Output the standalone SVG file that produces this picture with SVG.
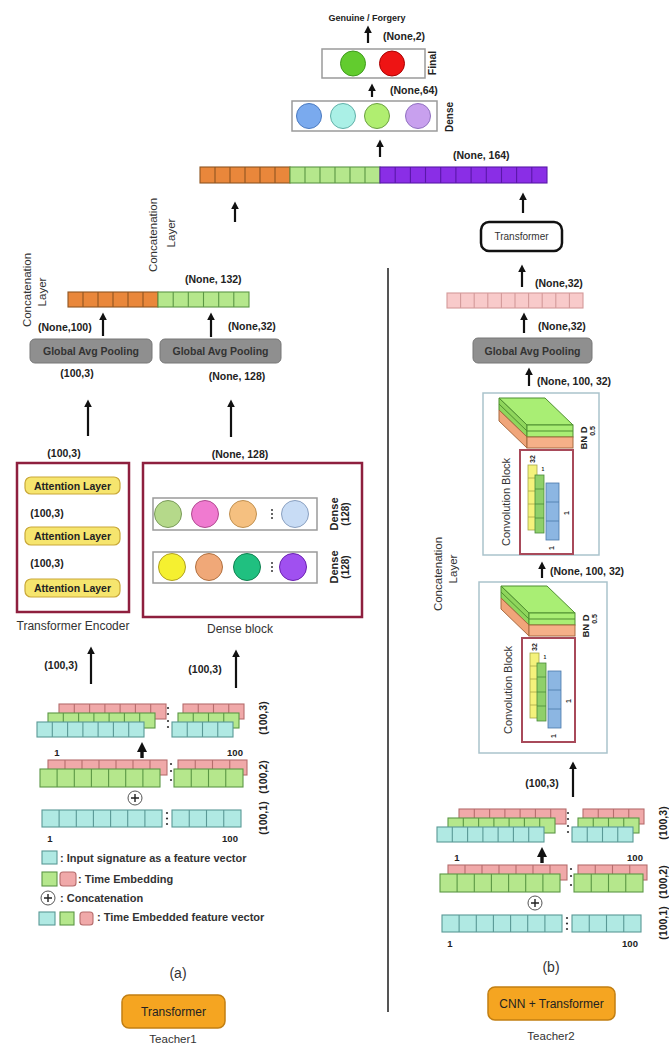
<svg xmlns="http://www.w3.org/2000/svg" width="669" height="1045" viewBox="0 0 669 1045">
<defs>
<style>
text{font-family:"Liberation Sans",Arial,sans-serif;fill:#222;dominant-baseline:central}
.b{font-weight:bold}
.m{text-anchor:middle}
.s5{font-size:5px}.s7{font-size:7px}.s9{font-size:9px}.s95{font-size:9.5px}.s10{font-size:10px}.s105{font-size:10.5px}.s11{font-size:11px}.s115{font-size:11.5px}.s12{font-size:12px}.s14{font-size:14px}
.g3{fill:#333}
.arr{stroke:#111;stroke-width:2.2;fill:none;marker-end:url(#ah)}
.arrb{stroke:#111;stroke-width:3.4;fill:none;marker-end:url(#ahb)}
.pk{fill:#f0a9a9;stroke:#b66d6d;stroke-width:1.1}
.gr{fill:#b5e78c;stroke:#5b9745;stroke-width:1.1}
.cy{fill:#b0e9e3;stroke:#5a9996;stroke-width:1.1}
.or{fill:#e9873b;stroke:#8f5522;stroke-width:1.1}
.pu{fill:#8a2ee6;stroke:#5a18a8;stroke-width:1.1}
.pkb{fill:#f8caca;stroke:#d39a9a;stroke-width:1.1}
.gap{fill:#8f8f8f;stroke:#777;stroke-width:1}
.red{fill:#fff;stroke:#8e1f3e;stroke-width:2.5}
.box{fill:#fff;stroke:#9a9a9a;stroke-width:1.5}
.att{fill:#f6e56e;stroke:#c9a838;stroke-width:1.2}
.cb{fill:#fff;stroke:#aac3cc;stroke-width:1.5}
.dot{fill:#333}
.plus{fill:#fff;stroke:#555;stroke-width:1}
.pl{stroke:#222;stroke-width:1.4;fill:none}
.tb{fill:#f5a521;stroke:#c27f12;stroke-width:1.5}
</style>
<marker id="ah" viewBox="0 0 10 10" refX="3" refY="5" markerWidth="8" markerHeight="8" markerUnits="userSpaceOnUse" orient="auto"><path d="M0,0 L10,5 L0,10 z" fill="#111"/></marker>
<marker id="ahb" viewBox="0 0 10 10" refX="3" refY="5" markerWidth="10" markerHeight="10" markerUnits="userSpaceOnUse" orient="auto"><path d="M0,0 L10,5 L0,10 z" fill="#111"/></marker>

<g id="emb">
  <rect class="pk" x="59" y="704" width="107" height="15"/>
  <path class="pk" d="M74.3 704v15M89.6 704v15M104.9 704v15M120.1 704v15M135.4 704v15M150.7 704v15"/>
  <rect class="gr" x="48" y="713" width="107" height="15"/>
  <path class="gr" d="M63.3 713v15M78.6 713v15M93.9 713v15M109.1 713v15M124.4 713v15M139.7 713v15"/>
  <rect class="cy" x="37" y="722" width="107" height="15"/>
  <path class="cy" d="M52.3 722v15M67.6 722v15M82.9 722v15M98.1 722v15M113.4 722v15M128.7 722v15"/>
  <rect class="pk" x="183" y="704" width="61" height="15"/>
  <path class="pk" d="M198.25 704v15M213.5 704v15M228.75 704v15"/>
  <rect class="gr" x="178" y="713" width="61" height="15"/>
  <path class="gr" d="M193.25 713v15M208.5 713v15M223.75 713v15"/>
  <rect class="cy" x="172" y="722" width="61" height="15"/>
  <path class="cy" d="M187.25 722v15M202.5 722v15M217.75 722v15"/>
  <circle class="dot" cx="168" cy="708" r="1.1"/><circle class="dot" cx="168" cy="714" r="1.1"/><circle class="dot" cx="168" cy="721" r="1.1"/><circle class="dot" cx="168" cy="727" r="1.1"/>
  <path class="arrb" d="M142 758V749"/>
  <text class="b m s95" x="57" y="752">1</text>
  <text class="b m s95" x="235" y="752">100</text>
  <rect class="pk" x="48" y="760" width="119" height="15"/>
  <path class="pk" d="M65 760v15M82 760v15M99 760v15M116 760v15M133 760v15M150 760v15"/>
  <rect class="gr" x="40" y="769" width="120" height="18"/>
  <path class="gr" d="M57.1 769v18M74.3 769v18M91.4 769v18M108.6 769v18M125.7 769v18M142.9 769v18"/>
  <rect class="pk" x="178" y="760" width="69" height="15"/>
  <path class="pk" d="M195.25 760v15M212.5 760v15M229.75 760v15"/>
  <rect class="gr" x="174" y="769" width="69" height="18"/>
  <path class="gr" d="M191.25 769v18M208.5 769v18M225.75 769v18"/>
  <circle class="dot" cx="171" cy="764" r="1.1"/><circle class="dot" cx="171" cy="771" r="1.1"/><circle class="dot" cx="171" cy="780" r="1.1"/>
  <circle class="plus" cx="135" cy="798" r="7"/>
  <path class="pl" d="M131 798h8M135 794v8"/>
  <rect class="cy" x="42" y="810" width="120" height="17"/>
  <path class="cy" d="M59.1 810v17M76.3 810v17M93.4 810v17M110.6 810v17M127.7 810v17M144.9 810v17"/>
  <rect class="cy" x="172" y="810" width="69" height="17"/>
  <path class="cy" d="M189.25 810v17M206.5 810v17M223.75 810v17"/>
  <circle class="dot" cx="167" cy="813" r="1.1"/><circle class="dot" cx="167" cy="818.5" r="1.1"/><circle class="dot" cx="167" cy="824" r="1.1"/>
  <text class="b m s95" x="50" y="838">1</text>
  <text class="b m s95" x="230" y="838">100</text>
  <text class="b m s105" transform="translate(263,718) rotate(-90)">(100,3)</text>
  <text class="b m s105" transform="translate(263,777) rotate(-90)">(100,2)</text>
  <text class="b m s105" transform="translate(263,818) rotate(-90)">(100,1)</text>
</g>

<g id="conv">
  <polygon points="499,398 545,398 573,425 527,425" fill="#a9ee74" stroke="#4f8f30" stroke-width="1"/>
  <polygon points="499,398 527,425 527,437 499,410" fill="#8fd65c" stroke="#4f8f30" stroke-width="1"/>
  <polygon points="499,410 527,437 527,448 499,421" fill="#f0a57a" stroke="#a86a40" stroke-width="1"/>
  <rect x="527" y="425" width="46" height="12" fill="#a9ee74" stroke="#4f8f30" stroke-width="1"/>
  <rect x="527" y="437" width="46" height="11" fill="#f5b088" stroke="#a86a40" stroke-width="1"/>
  <path d="M499 404L527 431H573" stroke="#4f8f30" stroke-width="1" fill="none"/>
  <rect x="520" y="450" width="53" height="104" fill="#fff" stroke="#a84a5a" stroke-width="2"/>
  <text class="m s11 g3" transform="translate(506,502) rotate(-90)">Convolution Block</text>
  <rect x="528" y="465" width="9" height="65" fill="#f4f27c" stroke="#a8a848" stroke-width="0.8"/>
  <path d="M528 478h9M528 491h9M528 504h9M528 517h9" stroke="#a8a848" stroke-width="0.8"/>
  <rect x="535" y="475" width="9" height="58" fill="#8fd06a" stroke="#4a8a3a" stroke-width="0.8"/>
  <path d="M535 489h9M535 504h9M535 518h9" stroke="#4a8a3a" stroke-width="0.8"/>
  <rect x="546" y="483" width="13" height="57" fill="#8cb6e2" stroke="#4a78aa" stroke-width="0.8"/>
  <path d="M546 502h13M546 521h13" stroke="#4a78aa" stroke-width="0.8"/>
  <text class="b m s7" transform="translate(532,459) rotate(-90)">32</text>
  <text class="b m s5" x="543" y="469">1</text>
  <text class="b m s7" transform="translate(566,513) rotate(-90)">1</text>
  <text class="b m s7" transform="translate(551,548) rotate(-90)">1</text>
  <text class="b m s95" transform="translate(583,438) rotate(-90)">BN D</text>
  <text class="b m s7" transform="translate(592,431) rotate(-90)">0.5</text>
</g>
</defs>

<rect width="669" height="1045" fill="#fff"/>

<!-- divider -->
<line x1="388" y1="268" x2="388" y2="1012" stroke="#555" stroke-width="2"/>

<g id="connectors">
  <path class="arr" d="M368 43V31"/>
  <path class="arr" d="M372 97V89"/>
  <path class="arr" d="M380 157V145"/>
  <path class="arr" d="M235 222V207"/>
  <path class="arr" d="M523 213V198"/>
  <path class="arr" d="M522 287V270"/>
  <path class="arr" d="M524 333V318"/>
  <path class="arr" d="M529 386V373"/>
  <path class="arr" d="M542 578V567"/>
  <path class="arr" d="M573 797V767"/>
  <path class="arr" d="M103 336V318"/>
  <path class="arr" d="M211 337V318"/>
  <path class="arr" d="M88 436V405"/>
  <path class="arr" d="M231 437V405"/>
  <path class="arr" d="M78 519V512"/>
  <path class="arr" d="M78 569V562"/>
  <path class="arr" d="M91 684V652"/>
  <path class="arr" d="M236 688V655"/>
</g>

<g id="output-label">
  <text class="b m s9" x="367" y="18">Genuine / Forgery</text>
  <text class="b s105" x="383" y="36">(None,2)</text>
</g>

<g id="final-layer">
  <rect class="box" x="322" y="49" width="103" height="29"/>
  <circle cx="353" cy="63.5" r="12.5" fill="#62cc2e" stroke="#3f9a1c"/>
  <circle cx="392" cy="63.5" r="12.5" fill="#ee1414" stroke="#a80000"/>
  <text class="b m s105" transform="translate(432,63) rotate(-90)">Final</text>
</g>
<text class="b s105" x="390" y="90">(None,64)</text>

<g id="dense-top">
  <rect class="box" x="292" y="101" width="145" height="30"/>
  <circle cx="309" cy="116" r="12.5" fill="#7aaaee" stroke="#4a7ac0"/>
  <circle cx="343" cy="116" r="12.5" fill="#aaf0e6" stroke="#60b0a8"/>
  <circle cx="377" cy="116" r="12.5" fill="#b0ee70" stroke="#6aa040"/>
  <circle cx="418" cy="116" r="12.5" fill="#c8a0ee" stroke="#9070c0"/>
  <text class="b m s10" transform="translate(449,117) rotate(-90)">Dense</text>
</g>
<text class="b s105" x="453" y="155">(None, 164)</text>

<g id="concat-final">
  <rect class="or" x="200" y="167" width="90" height="16"/>
  <path class="or" d="M215 167v16M230 167v16M245 167v16M260 167v16M275 167v16"/>
  <rect class="gr" x="290" y="167" width="90" height="16"/>
  <path class="gr" d="M305 167v16M320 167v16M335 167v16M350 167v16M365 167v16"/>
  <rect class="pu" x="380" y="167" width="167" height="16"/>
  <path class="pu" d="M395.2 167v16M410.4 167v16M425.5 167v16M440.7 167v16M455.9 167v16M471.1 167v16M486.3 167v16M501.5 167v16M516.6 167v16M531.8 167v16"/>
</g>

<!-- left branch -->
<g id="concat-label-1">
  <text class="m s115 g3" transform="translate(153,235) rotate(-90)">Concatenation</text>
  <text class="m s115 g3" transform="translate(171,233) rotate(-90)">Layer</text>
</g>
<g id="concat-label-2">
  <text class="m s115 g3" transform="translate(27,290) rotate(-90)">Concatenation</text>
  <text class="m s115 g3" transform="translate(42,292) rotate(-90)">Layer</text>
</g>
<text class="b s105" x="185" y="279">(None, 132)</text>
<g id="concat-left">
  <rect class="or" x="68" y="292" width="90" height="15"/>
  <path class="or" d="M83 292v15M98 292v15M113 292v15M128 292v15M143 292v15"/>
  <rect class="gr" x="158" y="292" width="91" height="15"/>
  <path class="gr" d="M173.2 292v15M188.3 292v15M203.5 292v15M218.7 292v15M233.8 292v15"/>
</g>
<text class="b s105" x="38" y="327">(None,100)</text>
<text class="b s105" x="228" y="326">(None,32)</text>

<g id="gap-left">
  <rect class="gap" x="30" y="339" width="122" height="24" rx="5"/>
  <text class="b m s105 g3" x="91" y="351">Global Avg Pooling</text>
</g>
<g id="gap-mid">
  <rect class="gap" x="160" y="339" width="121" height="24" rx="5"/>
  <text class="b m s105 g3" x="220.5" y="351">Global Avg Pooling</text>
</g>
<text class="b m s105" x="77" y="373">(100,3)</text>
<text class="b m s105" x="237" y="376">(None, 128)</text>
<text class="b m s105" x="64" y="453">(100,3)</text>
<text class="b m s105" x="240" y="454">(None, 128)</text>

<g id="transformer-encoder">
  <rect class="red" x="17" y="463" width="112" height="149"/>
  <rect class="att" x="25" y="477" width="95" height="17" rx="6"/>
  <text class="b m s105" x="72.5" y="485.5">Attention Layer</text>
  <text class="b m s105" x="47" y="513">(100,3)</text>
  <rect class="att" x="25" y="527" width="95" height="18" rx="6"/>
  <text class="b m s105" x="72.5" y="536">Attention Layer</text>
  <text class="b m s105" x="47" y="563">(100,3)</text>
  <rect class="att" x="25" y="579" width="95" height="18" rx="6"/>
  <text class="b m s105" x="72.5" y="588">Attention Layer</text>
</g>
<text class="m s12 g3" x="73" y="626">Transformer Encoder</text>

<g id="dense-block">
  <rect class="red" x="143" y="463" width="219" height="154"/>
  <rect class="box" x="153" y="498" width="164" height="32"/>
  <circle cx="168" cy="514" r="13.5" fill="#b5d98a" stroke="#7a9a5a"/>
  <circle cx="205" cy="514" r="13.5" fill="#f07ad0" stroke="#b04a90"/>
  <circle cx="243" cy="514" r="13.5" fill="#f5c080" stroke="#c09050"/>
  <circle class="dot" cx="272" cy="510" r="1"/><circle class="dot" cx="272" cy="514" r="1"/><circle class="dot" cx="272" cy="518" r="1"/>
  <circle cx="295" cy="514" r="13.5" fill="#c8dcf5" stroke="#8aa0c0"/>
  <rect class="box" x="153" y="552" width="164" height="31"/>
  <circle cx="172" cy="567" r="13.5" fill="#f5f030" stroke="#b0a020"/>
  <circle cx="209" cy="567" r="13.5" fill="#f0a878" stroke="#b07040"/>
  <circle cx="247" cy="567" r="13.5" fill="#20c080" stroke="#108050"/>
  <circle class="dot" cx="272" cy="563" r="1"/><circle class="dot" cx="272" cy="567" r="1"/><circle class="dot" cx="272" cy="571" r="1"/>
  <circle cx="293" cy="567" r="13.5" fill="#a050f0" stroke="#6a20b0"/>
  <text class="b m s11" transform="translate(334,514) rotate(-90)">Dense</text>
  <text class="b m s10" transform="translate(345,514) rotate(-90)">(128)</text>
  <text class="b m s11" transform="translate(334,567) rotate(-90)">Dense</text>
  <text class="b m s10" transform="translate(345,567) rotate(-90)">(128)</text>
</g>
<text class="m s12 g3" x="240" y="629">Dense block</text>
<text class="b m s105" x="61" y="665">(100,3)</text>
<text class="b m s105" x="205" y="669">(100,3)</text>

<g id="embedding-left"><use href="#emb"/></g>

<g id="legend">
  <rect class="cy" x="42" y="851" width="15" height="13"/>
  <text class="b s11 g3" x="60" y="858">: Input signature as a feature vector</text>
  <rect class="gr" x="42" y="872" width="15" height="14"/>
  <rect class="pk" x="60" y="872" width="16" height="14" rx="3"/>
  <text class="b s11 g3" x="78" y="879">: Time Embedding</text>
  <circle class="plus" cx="48" cy="898" r="7"/>
  <path class="pl" d="M44 898h8M48 894v8"/>
  <text class="b s11 g3" x="60" y="898">: Concatenation</text>
  <rect class="cy" x="39" y="912" width="16" height="13"/>
  <rect class="gr" x="60" y="912" width="14" height="13"/>
  <rect class="pk" x="80" y="912" width="13" height="13" rx="3"/>
  <text class="b s11 g3" x="97" y="917">: Time Embedded feature vector</text>
</g>

<text class="m s14 g3" x="178" y="973">(a)</text>
<g id="teacher1">
  <rect class="tb" x="122" y="995" width="103" height="33" rx="7"/>
  <text class="m s12" x="173.5" y="1012" fill="#3a2a10">Transformer</text>
</g>
<text class="m s115 g3" x="173" y="1039">Teacher1</text>

<!-- right branch -->
<g id="transformer-right">
  <rect x="481" y="222" width="81" height="29" rx="8" fill="#fff" stroke="#111" stroke-width="2.5"/>
  <text class="m s10 g3" x="521.5" y="236.5">Transformer</text>
</g>
<text class="b s105" x="535" y="283">(None,32)</text>
<g id="pink-vector">
  <rect class="pkb" x="447" y="293" width="136" height="15"/>
  <path class="pkb" d="M460.6 293v15M474.2 293v15M487.8 293v15M501.4 293v15M515 293v15M528.6 293v15M542.2 293v15M555.8 293v15M569.4 293v15"/>
</g>
<text class="b s105" x="538" y="326">(None,32)</text>
<g id="gap-right">
  <rect class="gap" x="473" y="338" width="119" height="25" rx="5"/>
  <text class="b m s105 g3" x="532.5" y="350.5">Global Avg Pooling</text>
</g>
<text class="b s105" x="537" y="381">(None, 100, 32)</text>

<g id="conv-block-1">
  <rect class="cb" x="483" y="393" width="116" height="162"/>
  <use href="#conv"/>
</g>
<text class="b s105" x="550" y="571">(None, 100, 32)</text>
<g id="concat-label-3">
  <text class="m s115 g3" transform="translate(438,574) rotate(-90)">Concatenation</text>
  <text class="m s115 g3" transform="translate(453,569) rotate(-90)">Layer</text>
</g>
<g id="conv-block-2">
  <rect class="cb" x="479" y="582" width="128" height="171"/>
  <use href="#conv" transform="translate(2,188)"/>
</g>
<text class="b m s105" x="542" y="783">(100,3)</text>

<g id="embedding-right"><use href="#emb" transform="translate(400,105)"/></g>

<text class="m s14 g3" x="551" y="967">(b)</text>
<g id="teacher2">
  <rect class="tb" x="488" y="987" width="127" height="33" rx="7"/>
  <text class="m s12" x="551.5" y="1004" fill="#3a2a10">CNN + Transformer</text>
</g>
<text class="m s115 g3" x="551" y="1036">Teacher2</text>
</svg>
